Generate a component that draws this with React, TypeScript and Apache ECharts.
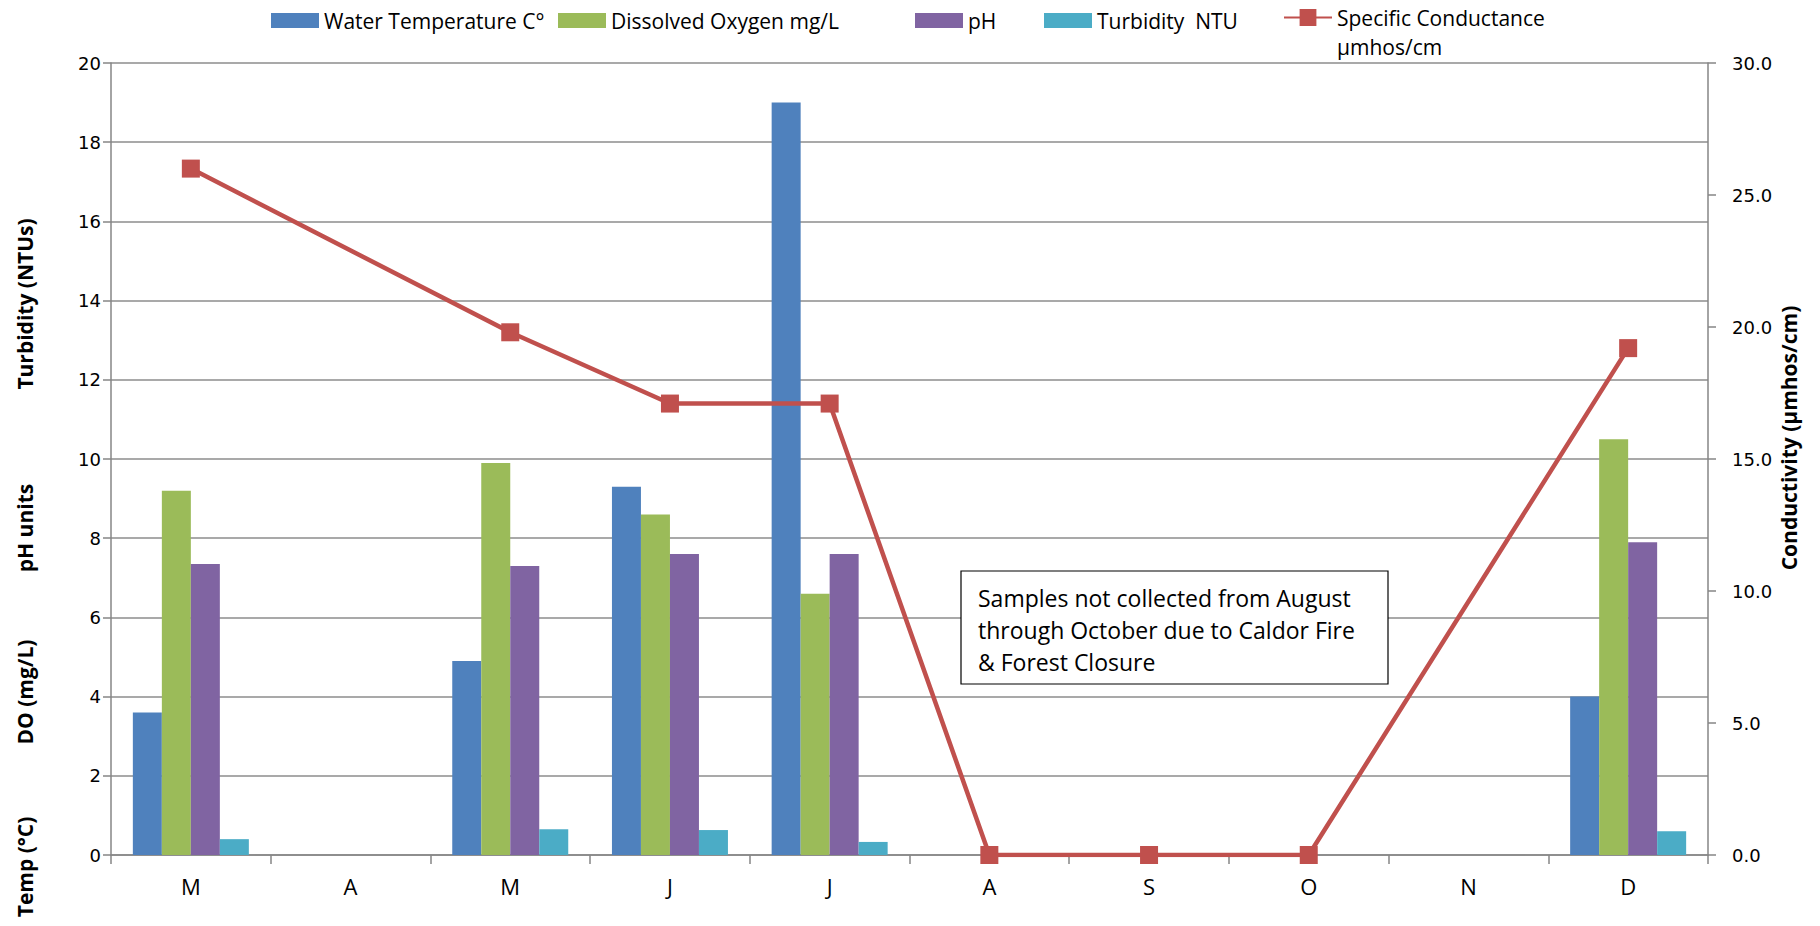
import React, { useEffect, useRef } from "react";
import * as echarts from "echarts";

const months = ["M", "A", "M", "J", "J", "A", "S", "O", "N", "D"];
const waterTemp = [3.6, null, 4.9, 9.3, 19.0, null, null, null, null, 4.0];
const dissolvedOxygen = [9.2, null, 9.9, 8.6, 6.6, null, null, null, null, 10.5];
const phValues = [7.35, null, 7.3, 7.6, 7.6, null, null, null, null, 7.9];
const turbidity = [0.4, null, 0.65, 0.63, 0.33, null, null, null, null, 0.6];
const conductance = [26.0, null, 19.8, 17.1, 17.1, 0, 0, 0, null, 19.2];

const leftTicks = { min: 0, max: 20, interval: 2 };
const rightTicks = { min: 0, max: 30, interval: 5 };

const seriesNames = [
  "Water Temperature C°",
  "Dissolved Oxygen mg/L",
  "pH",
  "Turbidity  NTU",
  "Specific Conductance",
];
const colors = ["#4F81BD", "#9BBB59", "#8064A2", "#4BACC6", "#C0504D"];

const textFont = "'Open Sans', 'Noto Sans', sans-serif";
const tickFont = "'DejaVu Sans', Verdana, sans-serif";

export default function App() {
  const ref = useRef<HTMLDivElement>(null);
  useEffect(() => {
    if (!ref.current) return;
    const chart = echarts.init(ref.current, null, { renderer: "svg" });
    const legendLefts = [271, 558, 915, 1044, 1283];
    const legendBase = {
      top: 10,
      padding: 0,
      itemWidth: 48,
      itemHeight: 15,
      textStyle: { fontFamily: textFont, fontSize: 21, color: "#000" },
      selectedMode: false,
    };
    const barSeries = [waterTemp, dissolvedOxygen, phValues, turbidity].map((d, i) => ({
      name: seriesNames[i],
      type: "bar",
      data: d,
      barWidth: 29,
      barGap: "0%",
      itemStyle: { color: colors[i] },
      yAxisIndex: 0,
    }));
    const axisLabelsLeft = [
      { t: "Turbidity (NTUs)", y: 304 },
      { t: "pH units", y: 528 },
      { t: "DO (mg/L)", y: 692 },
      { t: "Temp (°C)", y: 867 },
    ];
    chart.setOption({
      animation: false,
      backgroundColor: "#fff",
      grid: { left: 111, right: 112, top: 63, bottom: 71 },
      legend: seriesNames.map((n, i) =>
        i < 4
          ? { ...legendBase, left: legendLefts[i], data: [{ name: n, icon: "rect" }] }
          : {
              ...legendBase,
              left: legendLefts[i],
              top: 7,
              itemHeight: 21,
              data: [{ name: n }],
            }
      ),
      xAxis: {
        type: "category",
        data: months,
        boundaryGap: true,
        axisLine: { lineStyle: { color: "#868686", width: 1.5 } },
        axisTick: { show: true, length: 9, lineStyle: { color: "#868686", width: 1.5 } },
        axisLabel: { margin: 20, fontFamily: textFont, fontSize: 22, color: "#000" },
      },
      yAxis: [
        {
          type: "value",
          ...leftTicks,
          axisLine: { show: true, lineStyle: { color: "#868686", width: 1.5 } },
          axisTick: { show: true, length: 8, lineStyle: { color: "#868686", width: 1.5 } },
          splitLine: { show: true, lineStyle: { color: "#8c8c8c", width: 1.5 } },
          axisLabel: { margin: 10, fontFamily: tickFont, fontSize: 18, color: "#000" },
        },
        {
          type: "value",
          ...rightTicks,
          position: "right",
          axisLine: { show: true, lineStyle: { color: "#868686", width: 1.5 } },
          axisTick: { show: true, length: 8, lineStyle: { color: "#868686", width: 1.5 } },
          splitLine: { show: false },
          axisLabel: {
            margin: 24,
            fontFamily: tickFont,
            fontSize: 18,
            color: "#000",
            formatter: (v: number) => v.toFixed(1),
          },
        },
      ],
      series: [
        ...barSeries,
        {
          name: seriesNames[4],
          type: "line",
          yAxisIndex: 1,
          data: conductance,
          connectNulls: true,
          symbol: "rect",
          symbolSize: 18,
          lineStyle: { color: colors[4], width: 4.5 },
          itemStyle: { color: colors[4] },
          z: 5,
        },
      ],
      graphic: [
        ...axisLabelsLeft.map((a) => ({
          type: "text",
          x: 25,
          y: a.y,
          rotation: Math.PI / 2,
          style: {
            text: a.t,
            fontFamily: textFont,
            fontSize: 21,
            fontWeight: "bold",
            fill: "#000",
            align: "center",
            verticalAlign: "middle",
          },
        })),
        {
          type: "text",
          x: 1789,
          y: 438,
          rotation: Math.PI / 2,
          style: {
            text: "Conductivity (µmhos/cm)",
            fontFamily: textFont,
            fontSize: 21,
            fontWeight: "bold",
            fill: "#000",
            align: "center",
            verticalAlign: "middle",
          },
        },
        {
          type: "text",
          x: 1337,
          y: 47,
          style: {
            text: "µmhos/cm",
            fontFamily: textFont,
            fontSize: 21,
            fill: "#000",
            align: "left",
            verticalAlign: "middle",
          },
        },
        {
          type: "rect",
          shape: { x: 961, y: 571, width: 427, height: 113 },
          style: { fill: "#fff", stroke: "#000", lineWidth: 1.2 },
          z: 10,
        },
        {
          type: "text",
          x: 978,
          y: 582,
          z: 11,
          style: {
            text: "Samples not collected from August\nthrough October due to Caldor Fire\n& Forest Closure",
            fontFamily: textFont,
            fontSize: 23,
            lineHeight: 32,
            fill: "#000",
            align: "left",
            verticalAlign: "top",
          },
        },
      ],
    });
    return () => chart.dispose();
  }, []);
  return (
    <div
      ref={ref}
      style={{ position: "fixed", left: 0, top: 0, width: 1820, height: 926, background: "#fff" }}
    />
  );
}
